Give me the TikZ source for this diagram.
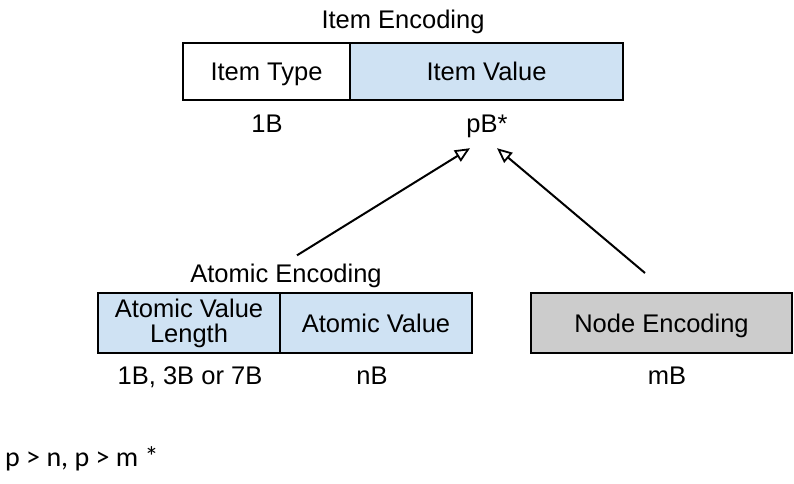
\documentclass[tikz,border=0pt]{standalone}
\usepackage{fontspec}
\setmainfont{Liberation Sans}
\newfontfamily\notefont{Carlito}
\usepackage{tikz}
\usetikzlibrary{arrows.meta}
\usetikzlibrary{positioning}
\usepackage{xcolor}
\definecolor{cellblue}{HTML}{CFE2F3}
\definecolor{cellgray}{HTML}{CCCCCC}

\tikzset{
  cell/.style={draw=black, line width=2pt, outer sep=0pt, inner sep=0pt, align=center,
    font=\fontsize{25.5}{25}\selectfont},
  onecell/.style={cell, text depth=0pt},
  lbl/.style={inner sep=0pt, font=\fontsize{25.5}{25}\selectfont},
  arr/.style={line width=2pt, -{Triangle[open, length=15pt, width=13pt, line width=1.8pt]}}
}

\begin{document}
\begin{tikzpicture}[x=1pt,y=-1pt]
\useasboundingbox (0,0) rectangle (794,483);
\node [onecell, fill=white, minimum width=167pt, minimum height=57pt] (itype) at (266.5,71.5) {Item Type};
\node [onecell, fill=cellblue, minimum width=273pt, minimum height=57pt] (ivalue) at (486.5,71.5) {Item Value};
\node [lbl, anchor=base] (ienc) at (403,28) {Item Encoding};
\node [lbl, anchor=base] (oneb) at (267,132) {1B};
\node [lbl, anchor=base] (pb) at (487,132) {pB*};

\node [cell, fill=cellblue, minimum width=182pt, minimum height=60pt] (alen) at (189,323) {Atomic Value\\Length};
\node [onecell, fill=cellblue, minimum width=192pt, minimum height=60pt] (aval) at (376,323) {Atomic Value};
\node [lbl, anchor=base] (aenc) at (286,282) {Atomic Encoding};
\node [lbl, anchor=base] (asize) at (190,384) {1B, 3B or 7B};
\node [lbl, anchor=base] (nb) at (372,384) {nB};

\node [onecell, fill=cellgray, minimum width=261pt, minimum height=60pt] (nenc) at (661.5,323) {Node Encoding};
\node [lbl, anchor=base] (mb) at (667,384) {mB};

\draw [arr] ([xshift=11pt, yshift=8pt]aenc.north) -- ([xshift=-17pt, yshift=-10.7pt]pb.south);
\draw [arr] ([xshift=-16.5pt, yshift=20pt]nenc.north) -- ([xshift=10pt, yshift=-10.7pt]pb.south);

\node [anchor=base west, inner sep=0pt, font=\notefont\fontsize{28}{28}\selectfont] (note) at (5,466) {p > n, p > m *};
\end{tikzpicture}
\end{document}
